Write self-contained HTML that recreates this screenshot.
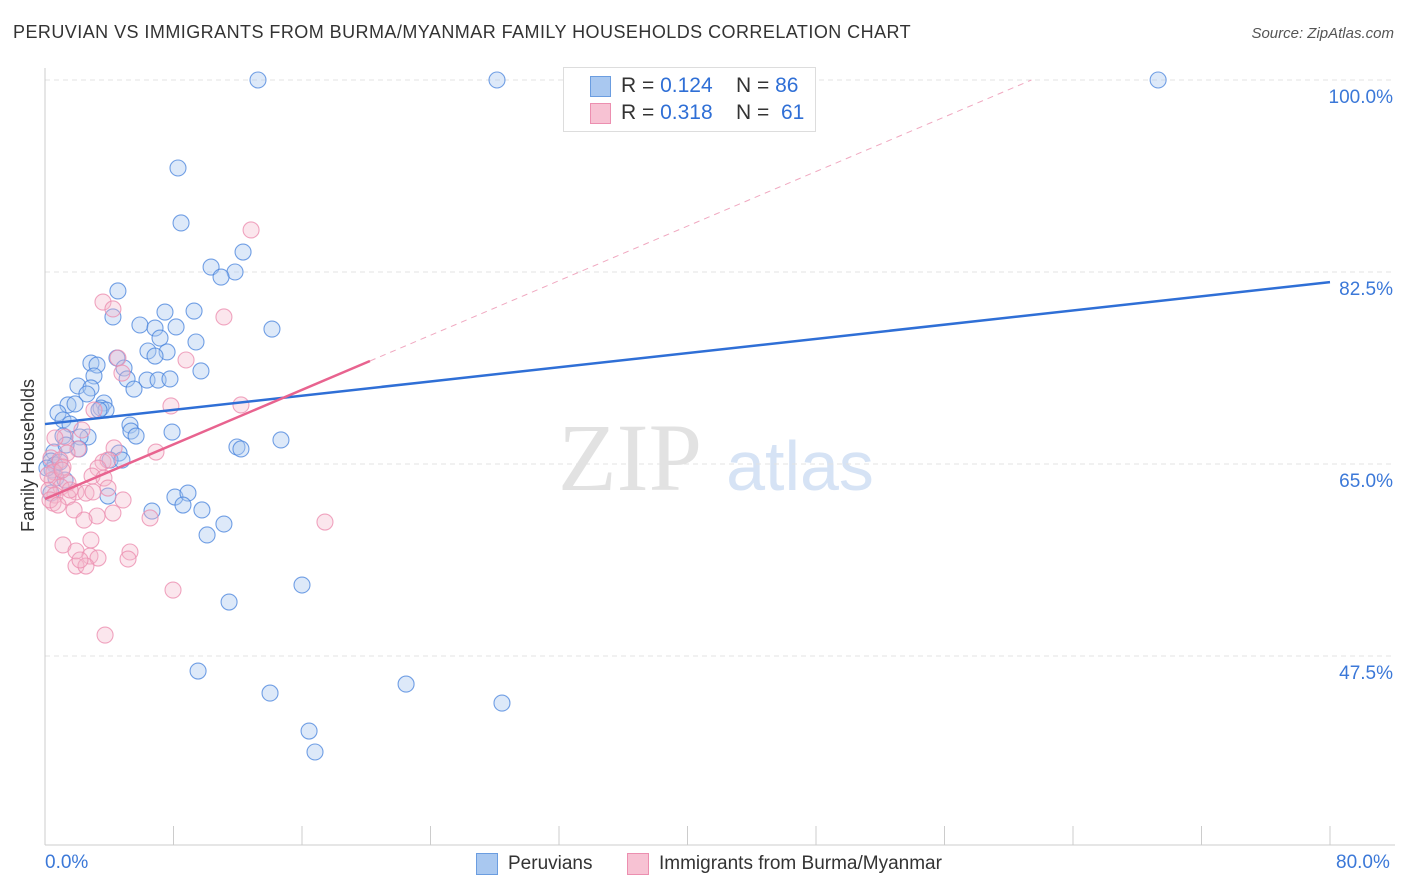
<!DOCTYPE html>
<html><head><meta charset="utf-8"><style>
body{margin:0;background:#fff;font-family:"Liberation Sans",sans-serif;}
#wrap{position:relative;width:1406px;height:892px;overflow:hidden;}
.t{position:absolute;white-space:nowrap;}
</style></head><body>
<div id="wrap">
<div class="t" style="left:13px;top:22px;font-size:18px;letter-spacing:0.45px;color:#333;">PERUVIAN VS IMMIGRANTS FROM BURMA/MYANMAR FAMILY HOUSEHOLDS CORRELATION CHART</div>
<div class="t" style="right:12px;top:25px;font-size:15px;color:#555;font-style:italic;">Source: ZipAtlas.com</div>
<svg id="svg" width="1406" height="892" style="position:absolute;left:0;top:0">
<text x="630" y="490" font-family="Liberation Serif,serif" font-size="96" fill="#e2e2e2" text-anchor="middle">ZIP</text>
<text x="800" y="490" font-family="Liberation Sans,sans-serif" font-size="70" fill="#d6e3f5" text-anchor="middle">atlas</text>
<g id="grid"></g><g id="marks"></g>
</svg>
<div style="position:absolute;left:563px;top:67px;width:251px;height:63px;border:1px solid #ddd;background:#fff;font-size:21px;color:#333;">
 <div style="position:absolute;left:26px;top:8px;width:19px;height:19px;background:#a9c8f0;border:1px solid #6b9de0"></div>
 <div class="t" style="left:57px;top:6px">R = <span style="color:#2f6fd6">0.124</span> &nbsp;&nbsp; N = <span style="color:#2f6fd6">86</span></div>
 <div style="position:absolute;left:26px;top:35px;width:19px;height:19px;background:#f7c2d3;border:1px solid #ec8fb0"></div>
 <div class="t" style="left:57px;top:33px">R = <span style="color:#2f6fd6">0.318</span> &nbsp;&nbsp; N = &nbsp;<span style="color:#2f6fd6">61</span></div>
</div>
<div class="t" style="left:-48px;top:445px;font-size:18px;color:#333;transform:rotate(-90deg);">Family Households</div>
<div class="t" style="left:45px;top:852px;font-size:19px;color:#3b78d8;">0.0%</div>
<div class="t" style="left:1336px;top:852px;font-size:19px;color:#3b78d8;">80.0%</div>
<div style="position:absolute;left:476px;top:853px;width:20px;height:20px;background:#a9c8f0;border:1px solid #6b9de0"></div>
<div class="t" style="left:508px;top:853px;font-size:19px;color:#333;">Peruvians</div>
<div style="position:absolute;left:627px;top:853px;width:20px;height:20px;background:#f7c2d3;border:1px solid #ec8fb0"></div>
<div class="t" style="left:659px;top:853px;font-size:19px;color:#333;">Immigrants from Burma/Myanmar</div>
</div>
<script>
const yTicks=[100,82.5,65,47.5];
const blueX=[13.26,28.14,69.3,8.28,8.47,12.33,10.34,11.83,10.96,4.54,7.47,9.28,4.23,5.91,6.85,8.16,14.13,7.16,9.40,6.41,7.60,6.85,4.48,2.86,3.24,4.92,9.71,3.05,5.11,6.35,7.04,7.78,2.05,2.86,5.54,2.61,1.43,1.87,3.67,3.49,3.80,0.81,1.12,1.56,5.29,7.91,5.35,5.67,2.68,1.12,2.18,11.95,12.2,14.69,0.56,4.61,2.12,4.05,4.79,0.37,0.62,0.44,0.68,0.37,3.92,8.09,8.90,8.59,9.77,6.66,11.14,10.09,16.0,11.46,9.53,14.01,22.48,28.45,16.44,16.81,1.31,0.93,3.36,0.12,1.25];
const blueY=[100,100,100,91.98,86.97,84.32,82.95,82.5,82.04,80.77,78.85,78.94,78.4,77.67,77.39,77.49,77.3,76.48,76.12,75.3,75.21,74.84,74.66,74.2,74.02,73.75,73.48,73.02,72.75,72.65,72.65,72.75,72.11,71.93,71.83,71.38,70.38,70.47,70.56,70.1,69.92,69.65,69.01,68.64,68.55,67.91,68.0,67.55,67.46,67.55,67.46,66.55,66.37,67.19,66.09,66.0,66.37,65.36,65.36,65.27,64.91,64.45,63.72,62.35,62.08,61.99,62.35,61.26,60.81,60.71,59.53,58.53,53.97,52.42,46.13,44.12,44.94,43.21,40.66,38.75,66.73,65.18,69.92,64.63,63.54];
const pinkX=[12.83,3.61,11.14,4.23,4.54,8.78,4.79,7.84,12.2,3.05,1.25,0.62,2.30,4.30,6.91,2.05,1.37,0.37,0.93,3.61,3.92,3.30,1.12,0.56,2.93,3.67,0.44,1.43,1.0,1.93,2.55,2.99,3.92,0.25,0.62,1.43,4.86,0.5,1.81,3.24,4.23,6.54,17.43,1.12,1.93,2.86,2.80,5.29,5.17,3.30,1.93,2.55,2.18,7.97,3.74,0.31,0.81,1.56,2.43,0.19,1.06];
const pinkY=[86.33,79.76,78.4,79.13,74.66,74.48,73.29,70.29,70.38,69.92,67.46,67.37,68.1,66.46,66.09,66.37,66.0,65.55,65.36,65.18,65.36,64.63,64.72,64.27,63.9,63.72,63.54,63.27,62.9,62.45,62.35,62.45,62.81,62.63,62.17,61.99,61.72,61.44,60.81,60.26,60.53,60.08,59.71,57.62,57.07,58.07,56.61,56.98,56.34,56.43,55.7,55.7,56.25,53.51,49.41,61.72,61.26,62.63,59.89,64.0,64.45];
const blueTrend=[68.64,81.58];
const pinkTrend=[61.81,74.39,20.23];
const X=v=>45+v*1285/80, Y=v=>80+(100-v)*192/17.5;
const NS='http://www.w3.org/2000/svg';
const grid=document.getElementById('grid'),marks=document.getElementById('marks');
function mk(tag,at,par){const e=document.createElementNS(NS,tag);for(const k in at)e.setAttribute(k,at[k]);par.appendChild(e);return e;}
yTicks.forEach(t=>{const l=mk('line',{x1:45,x2:1395,y1:Y(t),y2:Y(t),stroke:'#e3e3e3','stroke-dasharray':'5,4'},grid);


const tx=mk('text',{x:1393,y:Y(t)+23,'text-anchor':'end','font-size':19,fill:'#3b78d8','font-family':'Liberation Sans,sans-serif'},grid);tx.textContent=t.toFixed(1)+'%';

});
mk('line',{x1:45,x2:45,y1:68,y2:845,stroke:'#ccc'},grid);
mk('line',{x1:45,x2:1395,y1:845,y2:845,stroke:'#ccc'},grid);
for(let i=1;i<=10;i++){mk('line',{x1:X(i*8),x2:X(i*8),y1:826,y2:845,stroke:'#ccc'},grid);}
blueX.forEach((v,i)=>{const c=mk('circle',{cx:X(v),cy:Y(blueY[i]),r:8,fill:'rgba(169,200,240,0.4)',stroke:'rgba(70,130,220,0.75)','stroke-width':1.1},marks);

});
pinkX.forEach((v,i)=>{const c=mk('circle',{cx:X(v),cy:Y(pinkY[i]),r:8,fill:'rgba(244,182,202,0.35)',stroke:'rgba(236,143,176,0.8)','stroke-width':1.1},marks);

});
const bl=mk('line',{x1:X(0),y1:Y(blueTrend[0]),x2:X(80),y2:Y(blueTrend[1]),stroke:'#2f6fd6','stroke-width':2.5},marks);


const slope=(pinkTrend[1]-pinkTrend[0])/pinkTrend[2];
const xe=(100-pinkTrend[0])/slope;
const pd=mk('line',{x1:X(pinkTrend[2]),y1:Y(pinkTrend[1]),x2:X(xe),y2:Y(100),stroke:'#f0a8c0','stroke-width':1,'stroke-dasharray':'6,5'},marks);


const pl=mk('line',{x1:X(0),y1:Y(pinkTrend[0]),x2:X(pinkTrend[2]),y2:Y(pinkTrend[1]),stroke:'#e8638f','stroke-width':2.5},marks);


</script>
</body></html>
